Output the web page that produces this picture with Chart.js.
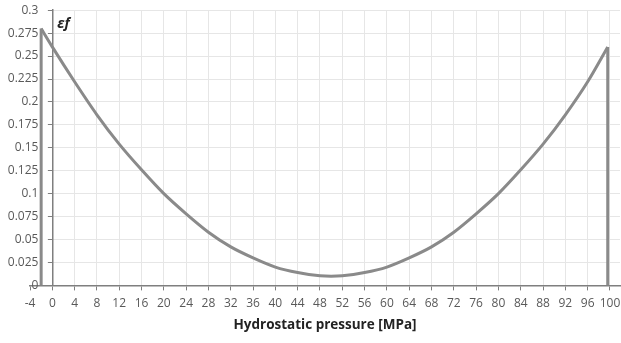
<!DOCTYPE html>
<html>
<head>
<meta charset="utf-8">
<script src="https://cdn.jsdelivr.net/npm/chart.js@4"></script>
<style>
  html, body { margin: 0; padding: 0; background: #fff; }
  #wrap { width: 621px; height: 343px; }
</style>
</head>
<body>
<div id="wrap"><canvas id="strainChart"></canvas></div>
<script>
// values
const pressure = [0, 4, 8, 12, 16, 20, 24, 28, 32, 36, 40, 44, 48, 50, 52, 56, 60, 64, 68, 72, 76, 80, 84, 88, 92, 96, 99.6];
const strain = [0.26, 0.222, 0.186, 0.154, 0.126, 0.1, 0.078, 0.058, 0.042, 0.03, 0.02, 0.014, 0.0105, 0.01, 0.0105, 0.014, 0.02, 0.03, 0.042, 0.058, 0.078, 0.1, 0.126, 0.154, 0.186, 0.222, 0.26];
const startDrop = [[-2, 0], [-2, 0.28]];
const endDrop = [[99.6, 0.26], [99.6, 0]];
const xTicks = [-4, 0, 4, 8, 12, 16, 20, 24, 28, 32, 36, 40, 44, 48, 52, 56, 60, 64, 68, 72, 76, 80, 84, 88, 92, 96, 100];
const yTicks = [0, 0.025, 0.05, 0.075, 0.1, 0.125, 0.15, 0.175, 0.2, 0.225, 0.25, 0.275, 0.3];

const lineColor = '#8a8a8a';
const axisColor = '#7f7f7f';
const gridColor = '#e6e6e6';
const textColor = '#595959';

const curve = [startDrop[1]].concat(pressure.map((p, i) => [p, strain[i]]));
const toPoints = arr => arr.map(([x, y]) => ({ x, y }));
const setTicks = list => scale => { scale.ticks = list.map(v => ({ value: v })); };

// horizontal gridlines only start at the vertical axis
const trimGrid = {
  id: 'trimGrid',
  beforeDatasetsDraw(chart) {
    const { ctx, chartArea, scales } = chart;
    const x0 = scales.x.getPixelForValue(0) - 5;
    ctx.save();
    ctx.fillStyle = '#fff';
    ctx.fillRect(chartArea.left, chartArea.top - 2, x0 - chartArea.left, chartArea.bottom - chartArea.top + 1);
    ctx.restore();
  }
};

// small italic symbol next to the vertical axis
const symbolLabel = {
  id: 'symbolLabel',
  afterDraw(chart) {
    const { ctx, scales } = chart;
    ctx.save();
    ctx.font = 'italic bold 14px "Open Sans"';
    ctx.fillStyle = '#222';
    ctx.fillText('\u03b5f', scales.x.getPixelForValue(0) + 5, scales.y.getPixelForValue(0.3) + 18);
    ctx.restore();
  }
};

const ctx = document.getElementById('strainChart').getContext('2d');
new Chart(ctx, {
  type: 'line',
  data: {
    datasets: [
      { data: toPoints(curve), cubicInterpolationMode: 'monotone' },
      { data: toPoints(startDrop) },
      { data: toPoints(endDrop) }
    ].map(ds => Object.assign({
      borderColor: lineColor,
      borderWidth: 3,
      pointRadius: 0,
      fill: false
    }, ds))
  },
  options: {
    responsive: true,
    maintainAspectRatio: false,
    animation: false,
    layout: { padding: { left: 30, right: 1, top: 8, bottom: 10 } },
    plugins: {
      legend: { display: false },
      tooltip: { enabled: false }
    },
    scales: {
      x: {
        type: 'linear',
        min: -4,
        max: 101.8,
        afterBuildTicks: setTicks(xTicks),
        // let the plot run to the right edge like the original
        afterFit: scale => { scale.paddingRight = 0; },
        grid: {
          color: c => (c.tick && c.tick.value === -4 ? 'rgba(0,0,0,0)' : gridColor),
          tickColor: axisColor,
          tickLength: 5
        },
        border: { color: axisColor, width: 1.5 },
        ticks: {
          color: textColor,
          font: { family: 'Open Sans', size: 12 },
          padding: 6,
          maxRotation: 0,
          autoSkip: false
        },
        title: {
          display: true,
          text: 'Hydrostatic pressure [MPa]',
          color: '#222',
          font: { family: 'Open Sans', size: 13.5, weight: 'bold' },
          padding: { top: 0, bottom: 0 }
        }
      },
      y: {
        type: 'linear',
        position: { x: 0 },
        min: 0,
        max: 0.3,
        afterBuildTicks: setTicks(yTicks),
        grid: { color: gridColor, tickColor: axisColor, tickLength: 4 },
        border: { color: axisColor, width: 1.5 },
        ticks: { display: false }
      },
      // tick labels sit a little left of the axis line
      yLabels: {
        type: 'linear',
        axis: 'y',
        position: { x: -2.5 },
        min: 0,
        max: 0.3,
        afterBuildTicks: setTicks(yTicks),
        grid: { display: false },
        border: { display: false },
        ticks: {
          z: 1,
          color: textColor,
          font: { family: 'Open Sans', size: 12 },
          callback: v => String(+v.toFixed(3))
        }
      }
    }
  },
  plugins: [trimGrid, symbolLabel]
});
</script>
</body>
</html>
